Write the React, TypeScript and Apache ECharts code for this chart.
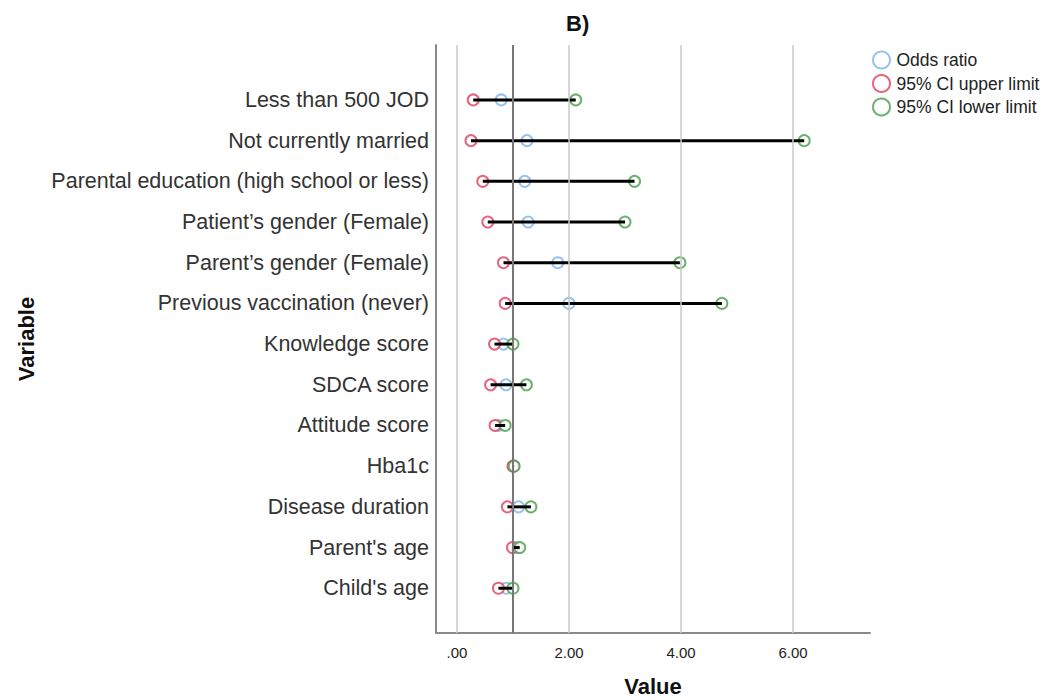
import React, { useEffect, useRef } from "react";
import * as echarts from "echarts";

const categories = [
  "Less than 500 JOD",
  "Not currently married",
  "Parental education (high school or less)",
  "Patient\u2019s gender (Female)",
  "Parent\u2019s gender (Female)",
  "Previous vaccination (never)",
  "Knowledge score",
  "SDCA score",
  "Attitude score",
  "Hba1c",
  "Disease duration",
  "Parent's age",
  "Child's age",
];
const oddsRatio = [0.79, 1.25, 1.21, 1.27, 1.8, 2.0, 0.83, 0.875, 0.74, 1.01, 1.1, 1.07, 0.875];
const ciUpper = [0.29, 0.25, 0.46, 0.55, 0.83, 0.86, 0.67, 0.6, 0.68, 1.0, 0.9, 0.99, 0.74];
const ciLower = [2.12, 6.2, 3.17, 3.0, 3.98, 4.73, 1.0, 1.24, 0.86, 1.02, 1.32, 1.12, 1.0];
const xTicks = [0, 2, 4, 6];
const refValue = 1;

export default function App() {
  const ref = useRef<HTMLDivElement>(null);
  useEffect(() => {
    const chart = echarts.init(ref.current!, null, { renderer: "svg" });
    const idx = categories.map((_, i) => i);
    const toPts = (arr: number[]) => arr.map((v, i) => [v, i]);
    const font = "'Liberation Sans', Arial, sans-serif";
    chart.setOption({
      animation: false,
      textStyle: { fontFamily: font },
      title: {
        text: "B)",
        left: 561,
        top: 7,
        textStyle: { fontSize: 22, fontWeight: "bold", color: "#111", fontFamily: font },
      },
      legend: {
        orient: "vertical",
        left: 867,
        top: 45.5,
        itemGap: 4.5,
        itemWidth: 20,
        itemHeight: 17,
        data: ["Odds ratio", "95% CI upper limit", "95% CI lower limit"],
        textStyle: { fontSize: 17.5, lineHeight: 17, color: "#222", fontFamily: font },
      },
      grid: { left: 436, right: 175, top: 45, bottom: 67, outerBoundsMode: "none" },
      xAxis: {
        type: "value",
        min: -0.375,
        max: 7.375,
        name: "Value",
        nameLocation: "middle",
        nameGap: 42,
        nameTextStyle: { fontSize: 22, lineHeight: 22, fontWeight: "bold", color: "#111", fontFamily: font },
        axisLine: { show: true, onZero: false, lineStyle: { color: "#8a8a8a", width: 2 } },
        axisTick: { show: false },
        splitLine: { show: false },
        axisLabel: {
          customValues: xTicks,
          formatter: (v: number) => (v === 0 ? ".00" : v.toFixed(2)),
          fontSize: 15,
          color: "#222",
          margin: 12,
        },
      },
      yAxis: {
        type: "value",
        inverse: true,
        min: -1.35,
        max: 13.1,
        name: "Variable",
        nameLocation: "middle",
        nameGap: 399,
        nameTextStyle: { fontSize: 22, fontWeight: "bold", color: "#111", fontFamily: font },
        axisLine: { show: true, onZero: false, lineStyle: { color: "#8a8a8a", width: 2 } },
        axisTick: { show: false },
        splitLine: { show: false },
        axisLabel: {
          customValues: idx,
          formatter: (v: number) => categories[v] ?? "",
          fontSize: 21.5,
          color: "#333",
          margin: 7,
        },
      },
      series: [
        {
          type: "scatter",
          name: "grid",
          data: [],
          silent: true,
          markLine: {
            silent: true,
            symbol: "none",
            label: { show: false },
            data: [
              ...xTicks.map((v) => ({ xAxis: v, lineStyle: { color: "#c8c8c8", width: 1.5, type: "solid" } })),
              { xAxis: refValue, lineStyle: { color: "#777", width: 2, type: "solid" } },
            ],
          },
        },
        {
          type: "scatter",
          name: "Odds ratio",
          data: toPts(oddsRatio),
          symbol: "emptyCircle",
          symbolSize: 11,
          itemStyle: { color: "#7fb3ea", borderWidth: 1.5 },
          z: 3,
        },
        {
          type: "scatter",
          name: "95% CI upper limit",
          data: toPts(ciUpper),
          symbol: "emptyCircle",
          symbolSize: 11,
          itemStyle: { color: "#e0405e", borderWidth: 1.5 },
          z: 3,
        },
        {
          type: "scatter",
          name: "95% CI lower limit",
          data: toPts(ciLower),
          symbol: "emptyCircle",
          symbolSize: 11,
          itemStyle: { color: "#4a9e4a", borderWidth: 1.5 },
          z: 3,
        },
        {
          type: "custom",
          name: "range",
          z: 4,
          data: idx.map((i) => [ciUpper[i], ciLower[i], i]),
          encode: { x: [0, 1], y: 2 },
          renderItem: (params: any, api: any) => {
            const a = api.coord([api.value(0), api.value(2)]);
            const b = api.coord([api.value(1), api.value(2)]);
            return {
              type: "line",
              shape: { x1: a[0], y1: a[1], x2: b[0], y2: b[1] },
              style: { stroke: "#000", lineWidth: 3 },
            };
          },
        },
      ],
    });
    return () => chart.dispose();
  }, []);
  return (
    <div
      ref={ref}
      style={{ position: "fixed", left: 0, top: 0, width: 1045, height: 700, background: "#fff" }}
    />
  );
}
